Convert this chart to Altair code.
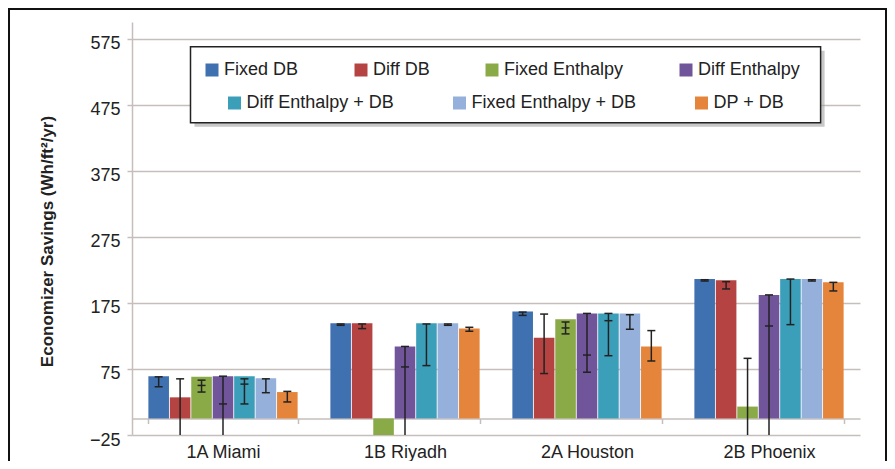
import altair as alt
import pandas as pd

cities = ["1A Miami", "1B Riyadh", "2A Houston", "2B Phoenix"]
series = ["Fixed DB", "Diff DB", "Fixed Enthalpy", "Diff Enthalpy",
          "Diff Enthalpy + DB", "Fixed Enthalpy + DB", "DP + DB"]
colors = ["#3f70b0", "#b54341", "#8aaa47", "#70559b", "#3c9fba", "#95b0da", "#e5853b"]

# bar heights per series (Miami, Riyadh, Houston, Phoenix)
values = {
    "Fixed DB":            [64, 144, 162, 211],
    "Diff DB":             [32, 144, 122, 209],
    "Fixed Enthalpy":      [63, -30, 150, 18],
    "Diff Enthalpy":       [64, 109, 159, 187],
    "Diff Enthalpy + DB":  [64, 144, 159, 211],
    "Fixed Enthalpy + DB": [61, 144, 159, 211],
    "DP + DB":             [40, 136, 109, 206],
}
err_hi = {
    "Fixed DB":            [63, 143, 161, 210],
    "Diff DB":             [60, 143, 158, 207],
    "Fixed Enthalpy":      [58, None, 146, 91],
    "Diff Enthalpy":       [64, 109, 159, 187],
    "Diff Enthalpy + DB":  [60, 143, 159, 211],
    "Fixed Enthalpy + DB": [60, 143, 157, 210],
    "DP + DB":             [41, 138, 133, 206],
}
err_lo = {
    "Fixed DB":            [48, 141, 156, 208],
    "Diff DB":             [-60, 136, 68, 196],
    "Fixed Enthalpy":      [40, None, 128, -60],
    "Diff Enthalpy":       [-60, -60, 70, -60],
    "Diff Enthalpy + DB":  [22, 80, 95, 142],
    "Fixed Enthalpy + DB": [39, 141, 135, 208],
    "DP + DB":             [25, 132, 87, 193],
}
err_mid = {
    "Fixed DB":            [None, None, None, None],
    "Diff DB":             [None, None, None, None],
    "Fixed Enthalpy":      [50, None, 137, None],
    "Diff Enthalpy":       [22, 78, 96, 140],
    "Diff Enthalpy + DB":  [52, None, 148, None],
    "Fixed Enthalpy + DB": [None, None, None, None],
    "DP + DB":             [None, None, None, None],
}
y_ticks = [-25, 75, 175, 275, 375, 475, 575]

rows, caps = [], []
for s in series:
    for i, c in enumerate(cities):
        rows.append(dict(city=c, series=s, value=values[s][i],
                         hi=err_hi[s][i], lo=err_lo[s][i]))
        for v in (err_hi[s][i], err_lo[s][i], err_mid[s][i]):
            if v is not None and v >= -25:
                caps.append(dict(city=c, series=s, yv=v))
df = pd.DataFrame(rows)
err_df = df.dropna(subset=["hi"])
cap_df = pd.DataFrame(caps)

GRID = "#c6bebc"
TXT = "#222222"

x_enc = alt.X("city:N", sort=cities,
              scale=alt.Scale(domain=cities, paddingInner=0.18, paddingOuter=0.09),
              axis=alt.Axis(title=None, labelAngle=0, offset=-16.5, tickBand="extent",
                            tickSize=5, tickColor=GRID, tickWidth=1.5,
                            domainColor=GRID, domainWidth=1.5,
                            labelFontSize=18, labelColor=TXT, labelPadding=19.5,
                            grid=False))
xo_enc = alt.XOffset("series:N", sort=series,
                     scale=alt.Scale(domain=series, paddingInner=0.04, paddingOuter=0))
yscale = alt.Scale(domain=[-25, 600], nice=False, zero=False)
yaxis = alt.Axis(values=y_ticks, format="d",
                 title="Economizer Savings (Wh/ft²/yr)", titleFontSize=17,
                 titleFontWeight="bold", titleColor=TXT, titleX=-85, titleY=219,
                 titleAlign="center", titleBaseline="middle",
                 labelFontSize=18, labelColor=TXT, labelPadding=7, labelOffset=5,
                 tickSize=5, tickColor=GRID, tickWidth=1.5,
                 domainColor=GRID, domainWidth=1.5,
                 grid=True, gridColor=GRID, gridWidth=1.5)


def legend(x, y, n, pad):
    return alt.Legend(title=None, orient="none", legendX=x, legendY=y,
                      direction="horizontal", columns=n, columnPadding=pad,
                      symbolType="square", symbolSize=169, symbolStrokeWidth=0,
                      symbolOpacity=1, labelFontSize=18, labelColor=TXT,
                      labelOffset=3, labelLimit=400, padding=0)


barsA = alt.Chart(df).transform_filter(
    alt.FieldOneOfPredicate(field="series", oneOf=series[:4])
).mark_bar(clip=True).encode(
    x=x_enc, xOffset=xo_enc,
    y=alt.Y("value:Q", scale=yscale, axis=yaxis), y2=alt.datum(0),
    color=alt.Color("series:N", scale=alt.Scale(domain=series[:4], range=colors[:4]),
                    legend=legend(71, 39, 4, 53)),
)
barsB = alt.Chart(df).transform_filter(
    alt.FieldOneOfPredicate(field="series", oneOf=series[4:])
).mark_bar(clip=True).encode(
    x=x_enc, xOffset=xo_enc,
    y=alt.Y("value:Q", scale=yscale, axis=yaxis), y2=alt.datum(0),
    color=alt.Color("series:N", scale=alt.Scale(domain=series[4:], range=colors[4:]),
                    legend=legend(93.5, 72, 3, 56)),
)
rules = alt.Chart(err_df).mark_rule(clip=True, color=TXT, strokeWidth=1.5).encode(
    x=x_enc, xOffset=xo_enc,
    y=alt.Y("lo:Q", scale=yscale, axis=yaxis), y2="hi:Q",
)
capmarks = alt.Chart(cap_df).mark_tick(orient="horizontal", size=8, thickness=1.5,
                                       color=TXT, clip=True, opacity=1).encode(
    x=x_enc, xOffset=xo_enc,
    y=alt.Y("yv:Q", scale=yscale, axis=yaxis),
)

one = alt.Data(values=[{}])
frame = alt.Chart(one).mark_rect(filled=False, stroke="#111111", strokeWidth=2).encode(
    x=alt.value(-123), x2=alt.value(754), y=alt.value(-13), y2=alt.value(480))
shadow = alt.Chart(one).mark_rect(color="#9a9a9a", opacity=0.55).encode(
    x=alt.value(62.5), x2=alt.value(692.6), y=alt.value(28.7), y2=alt.value(104.7))
box = alt.Chart(one).mark_rect(fill="white", stroke=TXT, strokeWidth=1.5).encode(
    x=alt.value(58.5), x2=alt.value(688.6), y=alt.value(24.7), y2=alt.value(100.7))

chart = alt.layer(frame, barsA, barsB, rules, capmarks, shadow, box).resolve_scale(
    color="independent"
).properties(
    width=728, height=413,
    autosize=alt.AutoSizeParams(type="none"),
    padding={"left": 124, "top": 14, "right": 27, "bottom": 26},
).configure(font="Liberation Sans").configure_view(stroke="transparent")

chart.save("out.html", embed_options={"renderer": "svg", "actions": False})
